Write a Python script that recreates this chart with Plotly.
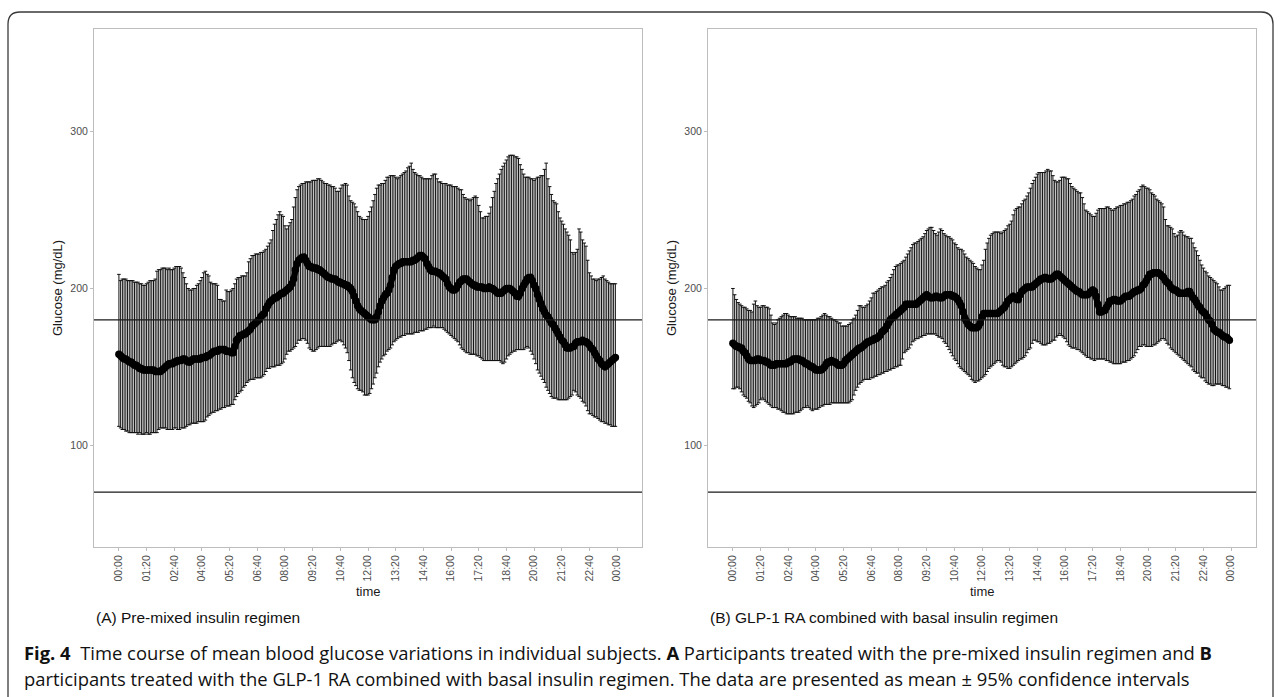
import plotly.graph_objects as go

W, H = 1281, 697

# time grid (minutes after midnight, 5-minute CGM readings)
time_min = list(range(0, 1440, 5))
tick_vals = list(range(0, 1441, 80))
tick_text = ["00:00", "01:20", "02:40", "04:00", "05:20", "06:40", "08:00", "09:20", "10:40",
             "12:00", "13:20", "14:40", "16:00", "17:20", "18:40", "20:00", "21:20", "22:40", "00:00"]

# (A) Pre-mixed insulin regimen
mean_a = [
    158,157,156,155,155,154,153,153,152,151,151,150,
    149,149,148,148,148,148,148,148,148,147,147,147,
    147,148,149,150,151,152,152,152,153,153,154,154,
    154,155,155,154,153,153,154,155,155,155,155,155,
    156,156,156,157,157,158,159,160,160,160,161,161,
    161,161,160,160,160,159,159,163,167,168,170,170,
    171,171,172,173,174,176,177,178,179,180,182,183,
    184,187,189,191,192,193,194,194,195,196,197,197,
    198,199,200,201,203,206,212,216,218,219,220,220,
    218,216,214,214,213,213,213,212,212,211,210,209,
    208,207,207,206,206,206,205,204,204,203,203,202,
    202,201,200,198,195,192,189,187,186,185,184,183,
    182,181,180,180,180,182,185,189,192,194,196,197,
    199,202,207,212,214,215,216,216,217,217,217,217,
    217,217,218,218,219,220,221,221,220,219,216,214,
    212,211,211,211,210,210,209,208,207,206,203,201,
    200,199,199,200,202,204,205,206,206,206,205,204,
    203,202,202,201,201,201,201,200,200,200,201,200,
    200,199,198,197,197,197,198,199,200,200,200,199,
    198,197,195,195,197,200,202,204,206,207,207,205,
    202,200,196,193,190,187,185,183,182,180,178,177,
    175,173,171,169,167,166,164,162,162,162,163,163,
    165,166,166,166,167,166,166,165,164,162,161,159,
    157,155,154,152,151,150,151,152,153,154,155,156,
]
upper_a = [
    209,205,206,206,206,205,205,205,205,204,204,204,
    203,203,202,202,203,204,205,205,205,206,211,212,
    212,213,213,213,212,213,212,212,213,214,214,214,
    213,210,207,203,200,199,199,200,200,202,203,205,
    207,210,211,209,208,204,203,203,203,202,193,193,
    192,192,199,198,198,199,200,203,206,207,207,208,
    208,208,210,217,219,221,221,222,222,222,223,223,
    224,225,227,229,231,237,241,244,247,249,247,246,
    240,238,240,242,244,252,258,263,265,266,267,267,
    268,268,268,268,269,269,269,270,270,269,268,267,
    267,266,266,265,265,264,262,262,264,266,266,267,
    266,259,256,255,254,252,249,246,245,244,244,244,
    246,249,252,256,260,264,266,266,267,267,269,271,
    271,272,272,272,271,270,271,272,273,274,275,277,
    278,280,276,274,273,272,272,271,270,270,270,270,
    270,272,273,273,270,268,268,267,267,267,266,266,
    266,265,265,265,264,263,263,260,258,257,257,256,
    257,258,259,258,253,249,245,245,246,246,248,252,
    258,262,267,270,273,276,278,280,282,284,285,285,
    285,284,284,283,279,276,273,271,271,271,270,270,
    269,270,271,271,272,272,276,280,270,265,260,256,
    255,254,249,245,243,241,238,236,234,231,223,222,
    223,225,238,236,231,229,227,218,210,208,206,206,
    205,206,206,207,208,206,205,204,203,203,203,203,
]
lower_a = [
    112,111,110,110,109,109,108,108,108,108,108,107,
    108,107,107,107,108,107,107,108,108,108,108,110,
    111,111,111,111,110,110,110,110,111,111,110,110,
    111,111,111,112,113,113,114,114,114,114,115,115,
    115,115,116,118,119,120,121,121,122,122,123,123,
    124,124,125,125,125,126,126,129,131,133,134,135,
    137,138,140,141,142,142,142,143,143,143,143,144,
    145,147,149,149,150,150,150,151,151,151,152,153,
    155,158,160,160,161,162,163,165,167,167,168,168,
    167,165,162,161,160,160,161,162,163,163,163,163,
    163,163,163,164,165,165,166,167,167,166,164,162,
    159,154,148,143,140,138,136,135,135,134,132,132,
    132,133,136,139,143,146,150,153,155,157,158,160,
    161,162,164,166,167,168,169,169,170,170,171,171,
    171,171,171,172,172,172,173,173,173,174,174,175,
    175,175,176,175,175,175,175,175,174,173,172,171,
    170,169,168,167,166,164,162,161,160,159,159,158,
    158,158,158,157,157,156,155,154,154,154,154,154,
    154,154,154,154,154,153,152,153,155,157,158,159,
    160,160,161,161,161,161,161,162,163,162,160,158,
    155,152,148,146,144,142,140,137,135,133,131,130,
    130,130,129,129,129,129,129,129,130,131,132,135,
    134,132,131,130,128,127,125,122,120,120,119,118,
    118,117,116,115,115,114,114,113,113,112,112,112,
]

# (B) GLP-1 RA combined with basal insulin regimen
mean_b = [
    165,164,163,163,162,162,160,159,157,155,154,154,
    154,154,155,155,154,154,154,153,153,152,151,151,
    151,152,152,152,152,152,152,152,153,153,154,155,
    155,155,155,154,154,153,152,152,151,150,150,149,
    148,148,148,148,149,150,152,153,153,154,153,153,
    152,151,151,151,152,154,155,156,157,158,159,160,
    161,162,162,163,164,165,166,166,167,167,168,168,
    169,170,172,173,174,176,178,180,181,182,183,184,
    185,186,187,188,190,190,190,190,190,190,190,191,
    192,193,194,195,196,195,194,194,194,195,195,194,
    194,194,195,196,196,196,196,195,195,194,193,191,
    189,185,181,179,177,176,175,175,175,175,176,178,
    182,184,184,184,184,184,184,184,184,184,185,186,
    187,188,190,192,193,194,195,194,193,193,196,198,
    199,200,201,201,201,201,202,203,204,205,206,206,
    207,207,206,206,206,207,208,209,209,208,207,206,
    205,204,203,202,201,200,199,198,198,197,196,196,
    196,196,197,198,199,198,195,190,185,185,186,186,
    188,190,192,192,193,193,192,192,192,193,194,195,
    195,195,196,197,198,198,199,199,200,202,203,205,
    207,209,209,210,210,210,210,209,208,207,205,204,
    203,201,200,199,199,198,197,197,197,197,197,198,
    198,196,194,193,191,189,188,186,185,184,182,180,
    179,177,174,173,172,172,171,170,169,169,168,167,
]
upper_b = [
    200,196,193,191,190,189,188,188,187,186,186,185,
    190,192,189,188,188,189,189,188,188,187,183,178,
    177,178,180,181,182,183,184,184,183,182,182,182,
    182,181,181,181,181,180,180,180,180,180,180,180,
    180,181,181,182,183,184,183,182,182,181,180,180,
    179,178,178,176,176,176,176,177,178,180,181,183,
    186,189,189,188,188,189,190,192,194,197,197,198,
    199,200,201,201,202,204,205,207,209,212,214,215,
    215,216,217,218,220,222,224,226,228,229,229,230,
    231,232,233,235,237,238,239,239,237,235,234,236,
    238,237,235,234,233,233,232,231,229,228,226,225,
    225,224,222,220,219,218,217,216,214,213,212,212,
    215,218,225,229,232,234,235,236,236,236,236,235,
    236,237,238,240,241,243,247,250,251,252,252,254,
    256,257,259,261,264,267,269,271,273,274,274,274,
    274,275,276,275,275,272,269,268,268,269,271,271,
    271,270,270,267,265,264,263,262,261,261,258,254,
    250,249,248,247,246,246,248,250,251,251,251,251,
    252,252,251,250,250,251,252,252,253,253,254,254,
    255,255,256,257,259,260,262,263,265,266,265,264,
    264,263,261,260,259,257,256,255,254,252,244,240,
    240,239,238,235,233,234,236,237,236,234,233,233,
    232,232,229,226,224,221,218,215,213,211,210,208,
    207,206,205,204,203,201,199,199,200,201,202,202,
]
lower_b = [
    136,136,137,137,136,134,132,131,130,128,127,125,
    124,125,126,127,129,130,129,128,127,126,125,124,
    124,124,123,123,122,121,121,120,120,120,120,120,
    121,121,121,122,123,124,124,125,124,123,122,123,
    123,123,124,125,125,126,126,126,126,127,127,127,
    127,127,127,127,127,127,127,127,128,129,132,135,
    137,139,140,141,142,142,142,142,143,143,144,144,
    145,145,146,146,147,147,148,148,149,149,150,150,
    151,151,155,159,160,161,162,164,166,167,168,168,
    169,169,170,170,171,171,171,171,171,171,170,169,
    169,168,166,165,163,161,159,157,155,154,152,150,
    149,148,147,146,145,144,142,141,140,141,141,142,
    143,144,145,147,149,150,151,152,153,154,154,153,
    151,150,150,149,149,150,151,152,153,154,155,155,
    156,157,159,161,162,165,167,167,166,166,165,164,
    164,164,165,165,166,167,167,169,170,171,170,169,
    168,166,164,163,162,162,162,161,161,160,159,158,
    157,156,156,155,155,154,155,155,155,155,155,155,
    154,154,153,153,152,152,152,152,152,153,153,153,
    154,154,155,156,157,159,161,163,163,164,164,163,
    163,163,163,164,164,165,166,167,168,168,167,165,
    164,162,161,160,159,158,157,156,155,154,153,152,
    151,150,148,147,146,146,144,143,143,141,140,139,
    139,138,138,139,139,139,139,138,138,137,137,136,
]

ref_lines = [180, 70]
panel_titles = ["(A) Pre-mixed insulin regimen", "(B) GLP-1 RA combined with basal insulin regimen"]

def px_x(v):
    return v / W

def px_y(v):
    return 1 - v / H

x_domains = [[94 / W, 642 / W], [708 / W, 1256 / W]]
y_domain = [1 - 547 / H, 1 - 29 / H]
x_range = [-72, 1512]
y_range = [35, 365.6]

fig = go.Figure()
panels = [(mean_a, upper_a, lower_a), (mean_b, upper_b, lower_b)]
for i, (m, u, l) in enumerate(panels):
    xa = "x" if i == 0 else "x2"
    ya = "y" if i == 0 else "y2"
    plus = [uu - mm for uu, mm in zip(u, m)]
    minus = [mm - ll for mm, ll in zip(m, l)]
    fig.add_trace(go.Scatter(
        x=time_min, y=m, mode="markers", xaxis=xa, yaxis=ya,
        marker=dict(size=1, color="rgba(0,0,0,0)"),
        error_y=dict(type="data", symmetric=False, array=plus, arrayminus=minus,
                     color="#111111", thickness=1.0, width=1.8),
        showlegend=False, hoverinfo="skip"))
    fig.add_trace(go.Scatter(
        x=time_min, y=m, mode="lines+markers", xaxis=xa, yaxis=ya,
        line=dict(color="black", width=6), marker=dict(size=7.5, color="black"),
        showlegend=False))

tick_font = dict(family="Liberation Sans, Arial", size=10.5, color="#4d4d4d")
axis_common = dict(showline=True, mirror=True, linecolor="#bdbdbd", linewidth=1,
                   showgrid=False, zeroline=False, ticks="outside", ticklen=3,
                   tickcolor="#bdbdbd", tickfont=tick_font)
fig.update_layout(
    width=W, height=H, margin=dict(l=0, r=0, t=0, b=0),
    paper_bgcolor="white", plot_bgcolor="white",
    xaxis=dict(domain=x_domains[0], range=x_range, tickvals=tick_vals, ticktext=tick_text,
               tickangle=-90, anchor="y", **axis_common),
    yaxis=dict(domain=y_domain, range=y_range, tickvals=[100, 200, 300], anchor="x", **axis_common),
    xaxis2=dict(domain=x_domains[1], range=x_range, tickvals=tick_vals, ticktext=tick_text,
                tickangle=-90, anchor="y2", **axis_common),
    yaxis2=dict(domain=y_domain, range=y_range, tickvals=[100, 200, 300], anchor="x2", **axis_common),
)

shapes = []
for xr in ["x domain", "x2 domain"]:
    yr = "y" if xr == "x domain" else "y2"
    for v in ref_lines:
        shapes.append(dict(type="line", xref=xr, yref=yr, x0=0, x1=1, y0=v, y1=v,
                           line=dict(color="#1a1a1a", width=1.3)))
# rounded outer border of the figure box
path = (f"M {px_x(8)},{px_y(697)} L {px_x(8)},{px_y(24)} "
        f"Q {px_x(8)},{px_y(12)} {px_x(20)},{px_y(12)} "
        f"L {px_x(1261)},{px_y(12)} Q {px_x(1273)},{px_y(12)} {px_x(1273)},{px_y(24)} "
        f"L {px_x(1273)},{px_y(697)}")
shapes.append(dict(type="path", xref="paper", yref="paper", path=path,
                   line=dict(color="#3a3a3a", width=1.3)))
fig.update_layout(shapes=shapes)

label_font = dict(family="Liberation Sans, Arial", size=13, color="#1a1a1a")
ann = []
for i, cx in enumerate([57, 671]):
    ann.append(dict(text="Glucose (mg/dL)", x=px_x(cx), y=px_y(288), xref="paper", yref="paper",
                    textangle=-90, showarrow=False, font=label_font, xanchor="center", yanchor="middle"))
for dom in x_domains:
    ann.append(dict(text="time", x=(dom[0] + dom[1]) / 2, y=px_y(591), xref="paper", yref="paper",
                    showarrow=False, font=label_font, xanchor="center", yanchor="middle"))
for i, xs in enumerate([94, 708]):
    ann.append(dict(text=panel_titles[i], x=px_x(xs), y=px_y(617), xref="paper", yref="paper",
                    showarrow=False, xanchor="left", yanchor="middle",
                    font=dict(family="Liberation Sans, Arial", size=15.5, color="#111111")))
cap_font = dict(family="Open Sans", size=18.4, color="#111111")
ann.append(dict(text="<b>Fig. 4</b>  Time course of mean blood glucose variations in individual subjects. "
                     "<b>A</b> Participants treated with the pre-mixed insulin regimen and <b>B</b>",
                x=px_x(22), y=px_y(652), xref="paper", yref="paper", showarrow=False,
                xanchor="left", yanchor="middle", font=cap_font))
ann.append(dict(text="participants treated with the GLP-1 RA combined with basal insulin regimen. "
                     "The data are presented as mean ± 95% confidence intervals",
                x=px_x(22), y=px_y(678), xref="paper", yref="paper", showarrow=False,
                xanchor="left", yanchor="middle", font=cap_font))
fig.update_layout(annotations=ann)

fig.write_html("out.html")
